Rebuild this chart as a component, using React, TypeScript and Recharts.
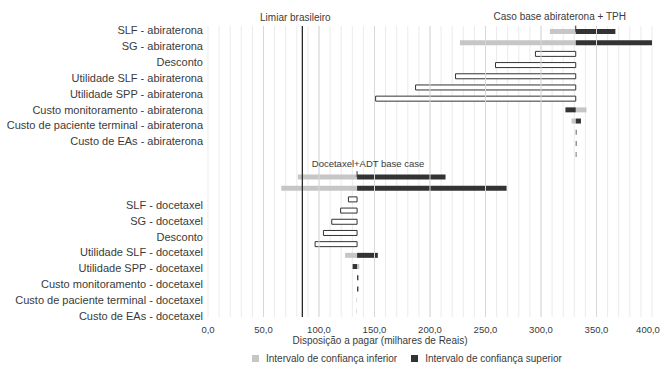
import React from 'react';
import {
  BarChart, Bar, XAxis, YAxis, CartesianGrid, ReferenceLine, Legend,
} from 'recharts';

const fonte = '"Liberation Sans", Arial, sans-serif';
const corTexto = '#3a3a3a';
const corInferior = '#c6c6c6';
const corSuperior = '#333333';

// Faixas do tornado: 12 da abiraterona, uma vazia (rótulo do caso base) e 13 do docetaxel
const linhas = [
  'a1', 'a2', 'a3', 'a4', 'a5', 'a6', 'a7', 'a8', 'a9', 'a10', 'a11', 'a12',
  'casoBaseDoce',
  'd1', 'd2', 'd3', 'd4', 'd5', 'd6', 'd7', 'd8', 'd9', 'd10', 'd11', 'd12', 'd13',
];

const casoBaseAbi = 331.3;
const casoBaseDoce = 134.3;
const limiarBrasileiro = 85;

// milhares de Reais, null = sem barra
const inferior = [
  308, 227, null, null, null, null, null, 341, 327.5, null, null, null,
  null,
  81, 66, null, null, null, null, null, 123.5, 136.3, null, null, 133.8, 133.8,
];
const superior = [
  367, 400, null, null, null, null, null, 322, 336, 332, 332, 331.9,
  null,
  214, 269, null, null, null, null, null, 153, 130.3, 135.5, 135.5, null, null,
];
const faixaNeutra = [
  null, null, 295, 259, 223, 187, 151, null, null, null, null, null,
  null,
  null, null, 126.5, 119.5, 111.5, 104, 96.5, null, null, null, null, null, null,
];

const rotulosAbi = [
  'SLF - abiraterona',
  'SG - abiraterona',
  'Desconto',
  'Utilidade SLF - abiraterona',
  'Utilidade SPP - abiraterona',
  'Custo monitoramento - abiraterona',
  'Custo de paciente terminal - abiraterona',
  'Custo de EAs - abiraterona',
];
const rotulosDoce = [
  'SLF - docetaxel',
  'SG - docetaxel',
  'Desconto',
  'Utilidade SLF - docetaxel',
  'Utilidade SPP - docetaxel',
  'Custo monitoramento - docetaxel',
  'Custo de paciente terminal - docetaxel',
  'Custo de EAs - docetaxel',
];

const ticksX = Array.from({ length: 41 }, (_, i) => i * 10);
const linhasPrincipais = [50, 100, 150, 200, 250, 300, 350];

const intervalo = (base: number, v: number | null) =>
  v == null ? null : [Math.min(base, v), Math.max(base, v)];

const tabela = linhas.map((linha, i) => {
  const base = i < 12 ? casoBaseAbi : casoBaseDoce;
  return {
    linha,
    indice: i,
    inferior: intervalo(base, inferior[i]),
    superior: intervalo(base, superior[i]),
    neutra: intervalo(base, faixaNeutra[i]),
  };
});

// eixo de rótulos: posições 0-7 (abiraterona) e 11-18 (docetaxel)
const posRotulos = [
  ...rotulosAbi.map((_, i) => i),
  ...rotulosDoce.map((_, i) => 11 + i),
];
const textoRotulo = (v: number) =>
  v < 8 ? rotulosAbi[v] : rotulosDoce[v - 11] ?? '';

const TickRotulo = (props: any) => (
  <text
    x={props.x}
    y={props.y}
    textAnchor="end"
    dominantBaseline="middle"
    fontFamily={fonte}
    fontSize={11}
    fill={corTexto}
  >
    {textoRotulo(props.payload.value)}
  </text>
);

const TickX = (props: any) => {
  const v = props.payload.value;
  if (v % 50 !== 0) return null;
  return (
    <text
      x={props.x - (v === 400 ? 4 : 0)}
      y={props.y + 5}
      textAnchor="middle"
      dominantBaseline="middle"
      fontFamily={fonte}
      fontSize={9.5}
      fill={corTexto}
    >
      {v.toFixed(1).replace('.', ',')}
    </text>
  );
};

const marcaCasoBase = (texto: string, dx: number, dy: number, tamanho: number) => (props: any) => {
  const { x1, y1 } = props;
  return (
    <g>
      <line x1={x1} x2={x1} y1={y1 - 6} y2={y1} stroke={corSuperior} strokeWidth={1} />
      <text
        x={x1 + dx}
        y={y1 + dy}
        textAnchor="middle"
        dominantBaseline="middle"
        fontFamily={fonte}
        fontSize={tamanho}
        fill={corTexto}
      >
        {texto}
      </text>
    </g>
  );
};

const RotuloLimiar = (props: any) => {
  const { viewBox } = props;
  return (
    <text
      x={viewBox.x - 7}
      y={viewBox.y - 8}
      textAnchor="middle"
      dominantBaseline="middle"
      fontFamily={fonte}
      fontSize={10}
      fill={corTexto}
    >
      Limiar brasileiro
    </text>
  );
};

const TituloEixoX = (props: any) => {
  const { viewBox } = props;
  return (
    <text
      x={viewBox.x + viewBox.width / 2 - 50}
      y={viewBox.y + 24}
      textAnchor="middle"
      dominantBaseline="middle"
      fontFamily={fonte}
      fontSize={10}
      fill={corTexto}
    >
      Disposição a pagar (milhares de Reais)
    </text>
  );
};

const Legenda = (props: any) => {
  const itens = (props.payload || []).filter((p: any) => p.type !== 'none');
  return (
    <div style={{ display: 'flex', gap: 14, fontFamily: fonte, fontSize: 10, color: corTexto }}>
      {itens.map((p: any) => (
        <div key={p.value} style={{ display: 'flex', alignItems: 'center' }}>
          <span style={{ width: 7, height: 7, background: p.color, marginRight: 7, display: 'inline-block' }} />
          {p.value}
        </div>
      ))}
    </div>
  );
};

export default function App() {
  return (
    <div style={{ position: 'absolute', left: 0, top: 0, background: '#fff' }}>
      <BarChart
        width={660}
        height={365}
        layout="vertical"
        data={tabela}
        margin={{ top: 26, right: 8, left: 0, bottom: 18 }}
        barSize={5}
        barGap={-5}
      >
        <CartesianGrid horizontal={false} stroke="#ebebeb" yAxisId="linhas" />
        <XAxis
          type="number"
          domain={[0, 400]}
          ticks={ticksX}
          interval={0}
          axisLine={false}
          tickLine={false}
          height={30}
          tick={<TickX />}
          label={<TituloEixoX />}
        />
        <YAxis yAxisId="linhas" type="category" dataKey="linha" hide width={0} />
        <YAxis
          yAxisId="rotulos"
          type="number"
          dataKey="indice"
          domain={[-0.33, 18]}
          allowDataOverflow
          ticks={posRotulos}
          interval={0}
          width={208}
          axisLine={false}
          tickLine={false}
          tickSize={0}
          tickMargin={5}
          tick={<TickRotulo />}
        />
        {linhasPrincipais.map((v) => (
          <ReferenceLine key={v} x={v} yAxisId="linhas" stroke="#d8d8d8" />
        ))}
        <ReferenceLine
          x={limiarBrasileiro}
          yAxisId="linhas"
          stroke="#2a2a2a"
          strokeWidth={1.3}
          label={<RotuloLimiar />}
        />
        <Bar yAxisId="linhas" dataKey="inferior" name="Intervalo de confiança inferior" fill={corInferior} isAnimationActive={false} />
        <Bar yAxisId="linhas" dataKey="superior" name="Intervalo de confiança superior" fill={corSuperior} isAnimationActive={false} />
        <Bar yAxisId="linhas" dataKey="neutra" name="Faixa" fill="#ffffff" stroke={corSuperior} strokeWidth={1} legendType="none" isAnimationActive={false} />
        <ReferenceLine
          yAxisId="linhas"
          segment={[{ x: casoBaseAbi, y: 'a1' }, { x: casoBaseAbi, y: 'a1' }]}
          shape={marcaCasoBase('Caso base abiraterona + TPH', -16, -14, 10)}
        />
        <ReferenceLine
          yAxisId="linhas"
          segment={[{ x: casoBaseDoce, y: 'd1' }, { x: casoBaseDoce, y: 'd1' }]}
          shape={marcaCasoBase('Docetaxel+ADT base case', 11, -13, 9.5)}
        />
        <Legend
          layout="horizontal"
          verticalAlign="middle"
          align="center"
          content={<Legenda />}
          wrapperStyle={{ left: 252, top: 353, width: 'auto' }}
        />
      </BarChart>
    </div>
  );
}
